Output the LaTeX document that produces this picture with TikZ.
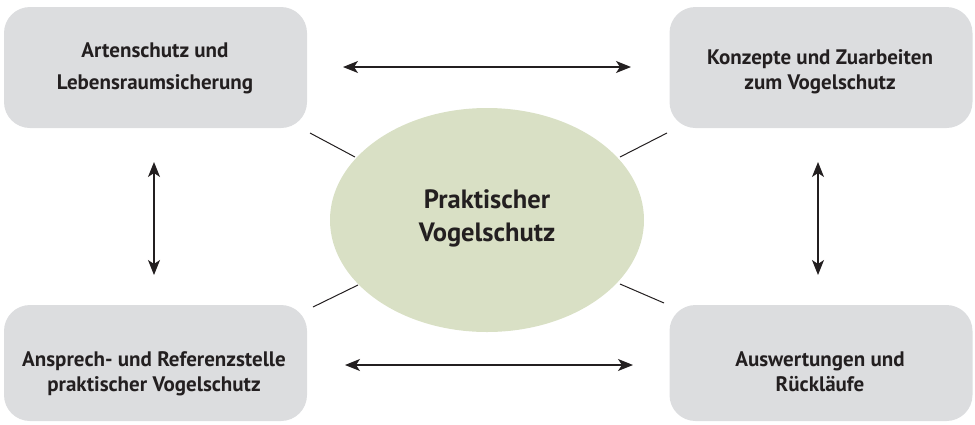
\documentclass[tikz,border=0pt]{standalone}
\usepackage{fontspec}
\setmainfont{PT Sans}
\usetikzlibrary{arrows.meta,shapes.geometric}
\definecolor{boxgray}{HTML}{DCDDDF}
\definecolor{sage}{HTML}{D9E0C5}
\definecolor{ink}{HTML}{231F20}
\begin{document}
\begin{tikzpicture}[x=1pt,y=-1pt,
  box/.style={draw=none,fill=boxgray,rounded corners=26pt,minimum width=303pt,minimum height=121pt,inner sep=0pt},
  boxtext/.style={align=center,text=ink,font=\bfseries\fontsize{21}{25}\selectfont,inner sep=0pt},
  spoke/.style={draw=ink,line width=1pt},
  dbl/.style={draw=ink,line width=1.2pt,{Stealth[length=15pt,width=12pt,inset=4pt]}-{Stealth[length=15pt,width=12pt,inset=4pt]}}]
\useasboundingbox (0,0) rectangle (975,424);
% boxes
\node[box] (tl) at (155.5,67.5) {};
\node[box] (tr) at (821,67.5) {};
\node[box,minimum height=116pt] (bl) at (155.5,363) {};
\node[box,minimum height=116pt] (br) at (821,363) {};
\node[boxtext,font=\bfseries\fontsize{21}{32}\selectfont] (tlt) at (155,68) {Artenschutz und\\Lebensraumsicherung};
\node[boxtext] (trt) at (820,72) {Konzepte und Zuarbeiten\\zum Vogelschutz};
\node[boxtext] (blt) at (154,374) {Ansprech- und Referenzstelle\\praktischer Vogelschutz};
\node[boxtext] (brt) at (820,372) {Auswertungen und\\Rückläufe};
% center ellipse
\node[ellipse,fill=sage,minimum width=314pt,minimum height=224pt,inner sep=0pt] (c) at (487,220) {};
\node[align=center,text=ink,font=\bfseries\fontsize{26.5}{32.5}\selectfont,inner sep=0pt] (ct) at (487,218.5) {Praktischer\\Vogelschutz};
% spokes
\coordinate (s1a) at (310,133); \coordinate (s1b) at (355,157);
\coordinate (s2a) at (620,157); \coordinate (s2b) at (667,133);
\coordinate (s3a) at (313,307); \coordinate (s3b) at (358,285);
\coordinate (s4a) at (620,284); \coordinate (s4b) at (664,303);
\draw[spoke] (s1a) -- (s1b);
\draw[spoke] (s2a) -- (s2b);
\draw[spoke] (s3a) -- (s3b);
\draw[spoke] (s4a) -- (s4b);
% arrows
\coordinate (a1) at (343,67); \coordinate (a2) at (631,67);
\coordinate (b1) at (345,365); \coordinate (b2) at (633,365);
\coordinate (l1) at (154,162); \coordinate (l2) at (154,275);
\coordinate (r1) at (818,162); \coordinate (r2) at (818,275);
\draw[dbl] (a1) -- (a2);
\draw[dbl] (b1) -- (b2);
\draw[dbl] (l1) -- (l2);
\draw[dbl] (r1) -- (r2);
\end{tikzpicture}
\end{document}
